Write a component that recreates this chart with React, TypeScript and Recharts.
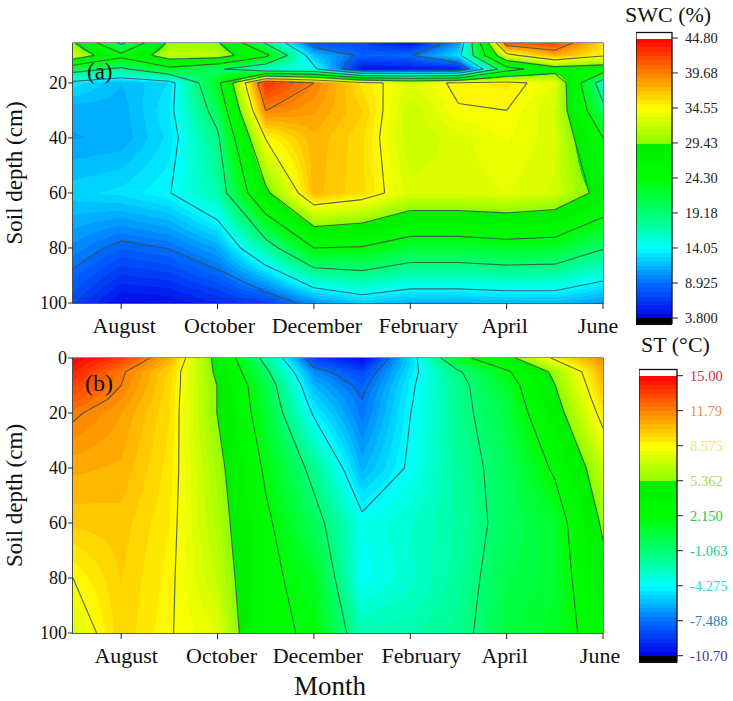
import React from "react";
import {
  ReferenceArea,
  Scatter,
  ScatterChart,
  XAxis,
  YAxis,
} from "recharts";

const months = ["July", "August", "September", "October", "November", "December", "January", "February", "March", "April", "May", "June"];
const monthTicks = [1, 3, 5, 7, 9, 11];

const swcDepths = [5, 10, 15, 20, 30, 40, 60, 80, 100];
const swcValues = [
  [29.5, 17.5, 30, 29.6, 18, 7, 7, 4.4, 10.2, 42.2, 42.5, 36],
  [32.5, 25.5, 31.7, 31.6, 25.3, 11.8, 8.3, 8.7, 13, 33.5, 38, 34.9],
  [21, 18.4, 23, 19.8, 15.5, 14.8, 4.6, 5, 5.1, 22.5, 27.5, 27],
  [13.2, 11.5, 12.8, 23.2, 43, 39.7, 35.6, 33.2, 35, 35.4, 33.4, 16.5],
  [11, 11.1, 13.4, 20.6, 39.7, 38.5, 36.5, 32, 34.4, 34.55, 32.5, 20.3],
  [10.8, 11, 13, 18.6, 34.7, 37.6, 36, 32, 33, 34, 32.85, 24.3],
  [12.5, 13, 13.95, 17, 28.6, 37.4, 36, 32.9, 32.9, 33.3, 32.5, 28.2],
  [10, 8.3, 9, 11, 17.4, 24.3, 24, 22, 22, 22.6, 22.3, 19.4],
  [7.1, 4.3, 4.5, 5.7, 6.8, 10.1, 12.3, 11.3, 11.3, 11.6, 11.7, 10.5],
];
const swcTicks = [44.8, 39.68, 34.55, 29.43, 24.3, 19.18, 14.05, 8.925, 3.8];
const swcTickLabels = ["44.80", "39.68", "34.55", "29.43", "24.30", "19.18", "14.05", "8.925", "3.800"];
const swcLines = [8.925, 14.05, 19.18, 24.3, 29.43, 34.55, 39.68];

const stDepths = [0, 5, 10, 15, 20, 40, 60, 80, 100];
const stValues = [
  [15, 13.6, 10.6, 4.6, -1.9, -8.8, -10.5, -5.2, 1.3, 4.53, 8.95, 11.5],
  [14.3, 12, 9.7, 4.9, -0.6, -6.9, -8.6, -4.9, -1.3, 1.8, 5.9, 10.7],
  [13.5, 11.79, 9.55, 5.3, 0.3, -5.9, -7.9, -4.57, -1.66, 0.95, 5.3, 10.26],
  [12.8, 11.4, 9.45, 5.3, 0.55, -5.2, -7.49, -4.45, -1.7, 0.65, 4.85, 9.75],
  [12, 11, 9.4, 5.3, 0.8, -4.5, -7.3, -4.3, -1.7, 0.35, 4.4, 9.2],
  [10.7, 10.5, 9.2, 6, 1.8, -1.7, -6, -4.04, -2, -0.2, 2.47, 6.9],
  [9.9, 10, 9, 6.35, 2.55, -0.28, -3.85, -3.1, -2.2, -0.34, 0.9, 5.7],
  [8.575, 9.8, 8.8, 6.9, 2.65, 1.3, -4.1, -3.2, -2, 0.1, 0.8, 4.6],
  [7.5, 9.7, 8.65, 7.8, 2.4, 2, -2.5, -2.4, -1.7, 0.35, 1.2, 3.2],
];
const stTicks = [15, 11.79, 8.575, 5.362, 2.15, -1.063, -4.275, -7.488, -10.7];
const stTickLabels = ["15.00", "11.79", "8.575", "5.362", "2.150", "-1.063", "-4.275", "-7.488", "-10.70"];
const stTickColors = ["#dc2a3c", "#e58a4e", "#efe56a", "#a8d85a", "#1ccb50", "#14cf98", "#28dce6", "#2a7ec0", "#3a2fae"];
const stLines = [-7.488, -4.275, -1.063, 2.15, 5.362, 8.575, 11.79];

const FONT = "'Liberation Serif', 'Times New Roman', serif";
const PLOT_W = 530;
const BANDS = 64;
const LINE_COLOR = "#37504f";

const colorStops: [number, number, number, number][] = [
  [0, 0, 0, 235],
  [0.125, 0, 110, 255],
  [0.25, 0, 255, 255],
  [0.36, 0, 255, 130],
  [0.5, 0, 255, 0],
  [0.62, 0, 240, 0],
  [0.625, 140, 255, 0],
  [0.75, 255, 255, 0],
  [0.875, 255, 130, 0],
  [1, 255, 0, 0],
];

function rampColor(t: number) {
  for (let i = 1; i < colorStops.length; i++) {
    const a = colorStops[i - 1];
    const b = colorStops[i];
    if (t <= b[0]) {
      const f = (t - a[0]) / (b[0] - a[0]);
      return `rgb(${Math.round(a[1] + f * (b[1] - a[1]))},${Math.round(a[2] + f * (b[2] - a[2]))},${Math.round(a[3] + f * (b[3] - a[3]))})`;
    }
  }
  return "rgb(255,0,0)";
}

function bandOf(v: number, lo: number, hi: number) {
  const i = Math.floor(((v - lo) / (hi - lo)) * BANDS);
  return Math.max(0, Math.min(BANDS - 1, i));
}

function ContourPanel({ depths, values, levels, lo, hi, yDomain, yTicks, top, plotH, height, labelShift }: any) {
  const cells = depths.flatMap((d: number, row: number) =>
    months.map((_, col) => ({ x: col, y: d, row, col }))
  );
  const palette = Array.from({ length: BANDS }, (_, i) => rampColor((i + 0.5) / BANDS));
  const dx = PLOT_W / (months.length - 1);
  const pxPerCm = plotH / (yDomain[1] - yDomain[0]);

  const fillCell = (p: any) => {
    const { col, row } = p.payload;
    if (col === months.length - 1 || row === depths.length - 1) return <g />;
    const dy = (depths[row + 1] - depths[row]) * pxPerCm;
    const x0 = Math.round(p.cx);
    const x1 = Math.ceil(p.cx + dx);
    const y0 = Math.round(p.cy);
    const y1 = Math.ceil(p.cy + dy);
    const a = values[row][col];
    const b = values[row][col + 1];
    const c = values[row + 1][col];
    const d = values[row + 1][col + 1];
    const rects: React.ReactNode[] = [];
    for (let y = y0; y < y1; y++) {
      const fy = (y + 0.5 - p.cy) / dy;
      let start = x0;
      let band = -1;
      for (let x = x0; x <= x1; x++) {
        const fx = (x + 0.5 - p.cx) / dx;
        const v = a * (1 - fx) * (1 - fy) + b * fx * (1 - fy) + c * (1 - fx) * fy + d * fx * fy;
        const next = x === x1 ? -2 : bandOf(v, lo, hi);
        if (next !== band) {
          if (band >= 0) {
            rects.push(<rect key={`${y}-${start}`} x={start} y={y} width={x - start} height={1} fill={palette[band]} />);
          }
          band = next;
          start = x;
        }
      }
    }
    return <g shapeRendering="crispEdges">{rects}</g>;
  };

  const lineCell = (p: any) => {
    const { col, row } = p.payload;
    if (col === months.length - 1 || row === depths.length - 1) return <g />;
    const dy = (depths[row + 1] - depths[row]) * pxPerCm;
    const a = values[row][col];
    const b = values[row][col + 1];
    const c = values[row + 1][col + 1];
    const d = values[row + 1][col];
    let path = "";
    levels.forEach((L: number) => {
      const pts: [number, number][] = [];
      if (a >= L !== b >= L) pts.push([(L - a) / (b - a), 0]);
      if (b >= L !== c >= L) pts.push([1, (L - b) / (c - b)]);
      if (c >= L !== d >= L) pts.push([(L - d) / (c - d), 1]);
      if (d >= L !== a >= L) pts.push([0, (L - a) / (d - a)]);
      const seg = (i: number, j: number) => {
        path += `M${p.cx + pts[i][0] * dx} ${p.cy + pts[i][1] * dy}L${p.cx + pts[j][0] * dx} ${p.cy + pts[j][1] * dy}`;
      };
      if (pts.length === 2) seg(0, 1);
      if (pts.length === 4) {
        if ((a + b + c + d) / 4 >= L === a >= L) {
          seg(0, 1);
          seg(2, 3);
        } else {
          seg(0, 3);
          seg(1, 2);
        }
      }
    });
    return <path d={path} fill="none" stroke={LINE_COLOR} strokeWidth={1.1} strokeOpacity={0.85} />;
  };

  return (
    <div style={{ position: "absolute", left: 0, top: 0 }}>
      <ScatterChart
        width={640}
        height={height}
        margin={{ top, right: 37, bottom: 0, left: 0 }}
      >
        <XAxis
          type="number"
          dataKey="x"
          domain={[0, months.length - 1]}
          ticks={monthTicks}
          allowDataOverflow
          height={height - top - plotH}
          tickSize={6}
          interval={0}
          stroke="#222"
          tick={(t: any) => (
            <text
              x={t.x + labelShift[monthTicks.indexOf(t.payload.value)]}
              y={t.y + 22}
              textAnchor="middle"
              fill="#111"
              fontSize={22}
              fontFamily={FONT}
            >
              {months[t.payload.value]}
            </text>
          )}
        />
        <YAxis
          type="number"
          dataKey="y"
          reversed
          domain={yDomain}
          ticks={yTicks}
          allowDataOverflow
          width={73}
          tickSize={5}
          tickMargin={1}
          interval={0}
          stroke="#222"
          tick={{ fill: "#111", fontSize: 18, fontFamily: FONT }}
          label={{
            value: "Soil depth (cm)",
            angle: -90,
            position: "insideLeft",
            offset: 14,
            style: { textAnchor: "middle" },
            fill: "#111",
            fontSize: 23,
            fontFamily: FONT,
          }}
        />
        <Scatter data={cells} shape={fillCell} isAnimationActive={false} />
        <Scatter data={cells} shape={lineCell} isAnimationActive={false} />
        <ReferenceArea
          x1={0}
          x2={months.length - 1}
          y1={yDomain[0]}
          y2={yDomain[1]}
          fill="none"
          stroke="#222"
          strokeWidth={1.2}
          ifOverflow="visible"
        />
      </ScatterChart>
    </div>
  );
}

function ColorBar({ left, width, top, barH, lo, hi, domain, ticks, labels, colors }: any) {
  const step = (hi - lo) / BANDS;
  const pxPerUnit = barH / (domain[1] - domain[0]);
  const chartW = 733 - left;
  const pad = 12;
  const segs = [
    { x: 0.5, y: (domain[0] + lo) / 2, span: lo - domain[0], color: "#000" },
    ...Array.from({ length: BANDS }, (_, i) => ({
      x: 0.5,
      y: lo + (i + 0.5) * step,
      span: step,
      color: rampColor((i + 0.5) / BANDS),
    })),
    { x: 0.5, y: (hi + domain[1]) / 2, span: domain[1] - hi, color: "#fff" },
  ];
  const outline = [{ x: 0.5, y: (domain[0] + domain[1]) / 2 }];
  return (
    <div style={{ position: "absolute", left, top: top - pad }}>
      <ScatterChart
        width={chartW}
        height={barH + 2 * pad}
        margin={{ top: pad, right: 0, bottom: pad, left: 0 }}
      >
        <XAxis hide type="number" dataKey="x" domain={[0, 1]} />
        <YAxis
          orientation="right"
          type="number"
          dataKey="y"
          domain={domain}
          ticks={ticks}
          interval={0}
          width={chartW - width}
          axisLine={false}
          tickLine={{ stroke: "#222" }}
          tickSize={6}
          tick={(p: any) => {
            const i = ticks.indexOf(p.payload.value);
            return (
              <text
                x={p.x + 5}
                y={p.y + 5}
                fontSize={14.5}
                fontFamily={FONT}
                fill={colors ? colors[i] : "#222"}
              >
                {labels[i]}
              </text>
            );
          }}
        />
        <Scatter
          data={segs}
          isAnimationActive={false}
          shape={(p: any) => {
            const h = p.payload.span * pxPerUnit;
            return (
              <rect
                x={p.cx - width / 2}
                y={p.cy - h / 2}
                width={width}
                height={h + 0.5}
                fill={p.payload.color}
                shapeRendering="crispEdges"
              />
            );
          }}
        />
        <Scatter
          data={outline}
          isAnimationActive={false}
          shape={(p: any) => (
            <rect x={p.cx - width / 2} y={p.cy - barH / 2 + 0.5} width={width} height={barH - 1} fill="none" stroke="#111" strokeWidth={1.3} />
          )}
        />
      </ScatterChart>
    </div>
  );
}

const textStyle: React.CSSProperties = {
  position: "absolute",
  fontFamily: FONT,
  color: "#111",
  lineHeight: 1,
  whiteSpace: "nowrap",
};

export default function App() {
  return (
    <div style={{ position: "absolute", left: 0, top: 0, width: 733, height: 701, background: "#fff", overflow: "hidden" }}>
      <ContourPanel
        depths={swcDepths}
        values={swcValues}
        levels={swcLines}
        lo={3.8}
        hi={44.8}
        yDomain={[5.5, 100]}
        yTicks={[20, 40, 60, 80, 100]}
        top={43}
        plotH={260}
        height={345}
        labelShift={[3, 2, 3, 8, -2, -5]}
      />
      <ContourPanel
        depths={stDepths}
        values={stValues}
        levels={stLines}
        lo={-10.7}
        hi={15}
        yDomain={[0, 100]}
        yTicks={[0, 20, 40, 60, 80, 100]}
        top={358}
        plotH={275}
        height={668}
        labelShift={[5, 4, 4, 11, -2, -3]}
      />
      <ColorBar left={636} width={36} top={32} barH={292} lo={3.8} hi={44.8} domain={[2.92, 45.68]} ticks={swcTicks} labels={swcTickLabels} />
      <ColorBar left={639} width={38} top={369} barH={293} lo={-10.7} hi={15} domain={[-11.28, 15.615]} ticks={stTicks} labels={stTickLabels} colors={stTickColors} />
      <div style={{ ...textStyle, left: 625, top: 4, fontSize: 22 }}>SWC (%)</div>
      <div style={{ ...textStyle, left: 641, top: 334, fontSize: 22 }}>ST (°C)</div>
      <div style={{ ...textStyle, left: 87, top: 60, fontSize: 23 }}>(a)</div>
      <div style={{ ...textStyle, left: 85, top: 371, fontSize: 24 }}>(b)</div>
      <div style={{ ...textStyle, left: 294, top: 673, fontSize: 27 }}>Month</div>
    </div>
  );
}
